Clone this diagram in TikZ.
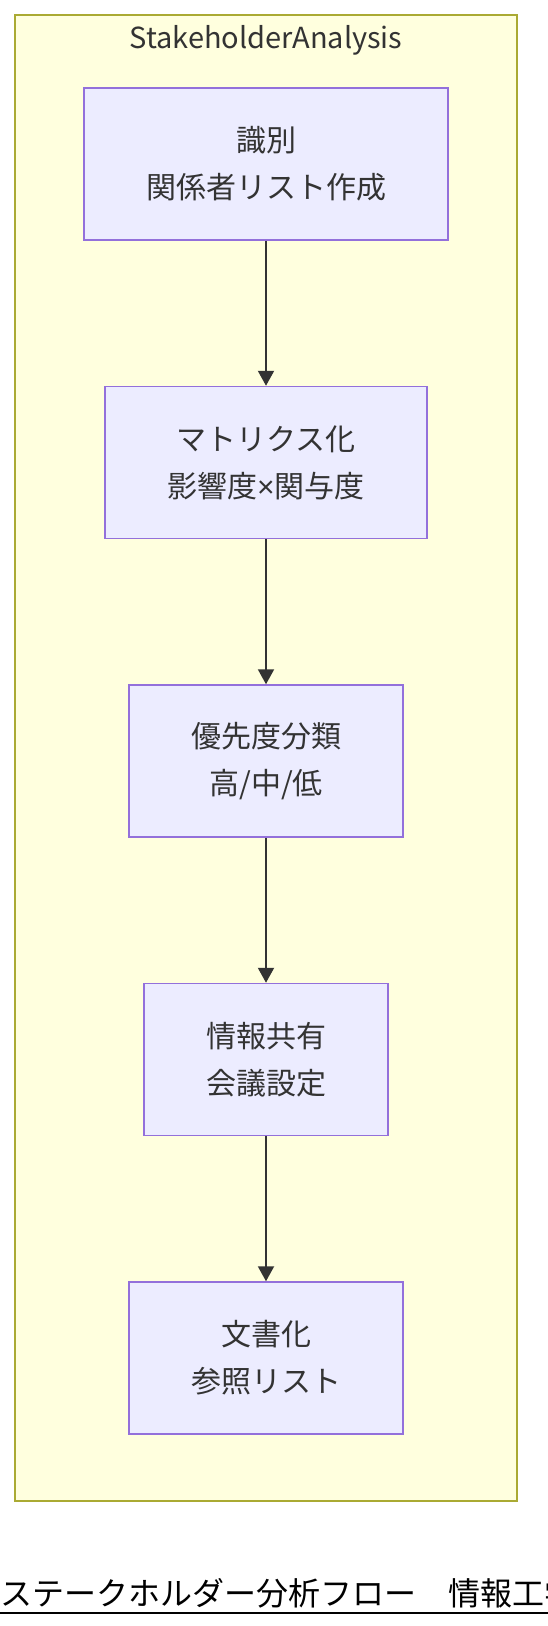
\documentclass[tikz,border=0pt]{standalone}
\usepackage{fontspec}
\setmainfont{Noto Sans CJK JP}
\newfontfamily\narrowsign{Liberation Sans}
\usetikzlibrary{positioning,arrows.meta}
\definecolor{clusterfill}{HTML}{FFFFDE}
\definecolor{clusterline}{HTML}{AAAA33}
\definecolor{nodefill}{HTML}{ECECFF}
\definecolor{nodeline}{HTML}{9370DB}
\definecolor{ink}{HTML}{333333}
\tikzset{
  proc/.style={draw=nodeline, fill=nodefill, line width=1.5pt, minimum height=152pt,
    inner xsep=62pt, align=center, text=ink, font=\fontsize{30pt}{47pt}\selectfont},
  flow/.style={draw=ink, line width=2pt, -{Triangle[length=15pt,width=16pt]}}}

\begin{document}
\begin{tikzpicture}[x=1pt, y=-1pt, node distance=145pt]
        \useasboundingbox (0,0) rectangle (548,1626);
        \clip (0,0) rectangle (548,1626);

        \draw[draw=clusterline, fill=clusterfill, line width=1.5pt] (15,15) rectangle (517,1501);
        \node[text=ink, font=\fontsize{29pt}{34pt}\selectfont] (title) at (266,40) {StakeholderAnalysis};

        \node[proc] (n1) at (266,164) {識別\\関係者リスト作成};
        \node[proc, below=of n1] (n2) {マトリクス化\\影響度{\narrowsign ×}関与度};
        \node[proc, below=of n2] (n3) {優先度分類\\高/中/低};
        \node[proc, below=of n3] (n4) {情報共有\\会議設定};
        \node[proc, below=of n4] (n5) {文書化\\参照リスト};

        \foreach \y [evaluate=\y as \ny using int(\y+1)] in {1,...,4} {
          \draw[flow] (n\y) -- (n\ny);
        }

        \node[anchor=base west, inner sep=0pt, font=\fontsize{32pt}{32pt}\selectfont] (caption) at (0,1605) {ステークホルダー分析フロー　情報工学};
        \draw[line width=2pt] (0,1612.5) -- (548,1612.5);
      \end{tikzpicture}
\end{document}
